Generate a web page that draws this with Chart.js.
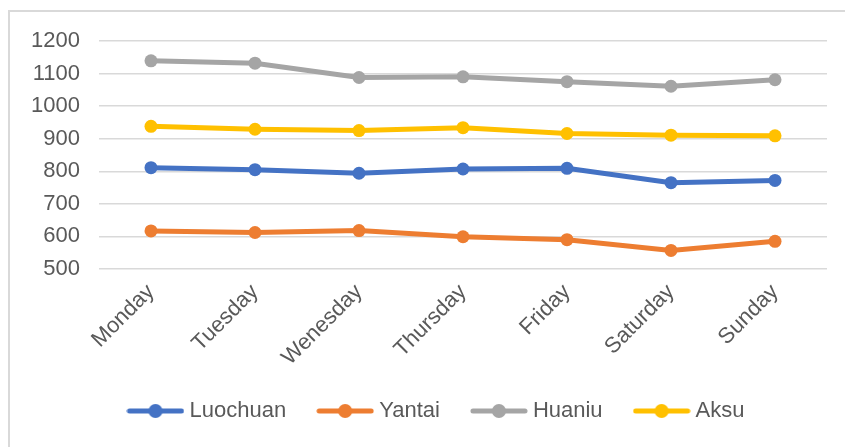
<!DOCTYPE html>
<html>
<head>
<meta charset="utf-8">
<script src="https://cdn.jsdelivr.net/npm/chart.js"></script>
<style>
  html, body { margin: 0; padding: 0; background: #ffffff; }
  #wrap { position: relative; width: 845px; height: 447px; overflow: hidden; }
  #frame { position: absolute; left: 8px; top: 10px; width: 900px; height: 500px; border: 2px solid #d9d9d9; box-sizing: border-box; }
  canvas { position: absolute; left: 0; top: 0; }
</style>
</head>
<body>
<div id="wrap">
  <div id="frame"></div>
  <canvas id="c" width="845" height="447"></canvas>
</div>
<script>
const categories = ['Monday', 'Tuesday', 'Wenesday', 'Thursday', 'Friday', 'Saturday', 'Sunday'];
const luochuan = [811, 805, 794, 807, 809, 765, 772];
const yantai   = [617, 612, 618, 599, 590, 557, 585];
const huaniu   = [1139, 1132, 1088, 1090, 1075, 1061, 1081];
const aksu     = [938, 929, 925, 934, 916, 911, 909];
const seriesNames = ['Luochuan', 'Yantai', 'Huaniu', 'Aksu'];
const seriesColors = ['#4472C4', '#ED7D31', '#A5A5A5', '#FFC000'];
const yMin = 500, yMax = 1200, yStep = 100;

const FONT = '"Liberation Sans", Arial, sans-serif';
const TEXT = '#595959';

function legendIcon(color) {
  const c = document.createElement('canvas');
  c.width = 58; c.height = 16;
  const g = c.getContext('2d');
  g.strokeStyle = color; g.lineWidth = 5; g.lineCap = 'round';
  g.beginPath(); g.moveTo(3, 8); g.lineTo(55, 8); g.stroke();
  g.fillStyle = color;
  g.beginPath(); g.arc(29, 8, 7, 0, Math.PI * 2); g.fill();
  return c;
}

const seriesData = [luochuan, yantai, huaniu, aksu];
const datasets = seriesNames.map((n, i) => ({
  label: n,
  data: seriesData[i],
  borderColor: seriesColors[i],
  backgroundColor: seriesColors[i],
  borderWidth: 5,
  pointStyle: 'circle',
  pointRadius: 6.5,
  pointHoverRadius: 6.5,
  pointBorderWidth: 0,
  tension: 0
}));

const legendShift = {
  id: 'legendShift',
  afterLayout(chart) {
    if (chart.legend) { chart.legend.left += 50; }
  }
};

new Chart(document.getElementById('c'), {
  type: 'line',
  data: { labels: categories, datasets },
  plugins: [legendShift],
  options: {
    responsive: false,
    animation: false,
    layout: { padding: { left: 0, right: 18, top: 41, bottom: 15 } },
    plugins: {
      tooltip: { enabled: false },
      legend: {
        position: 'bottom',
        labels: {
          usePointStyle: true,
          pointStyleWidth: 46,
          padding: 36,
          color: TEXT,
          font: { family: FONT, size: 22 },
          generateLabels(chart) {
            return chart.data.datasets.map((d, i) => ({
              text: d.label,
              fillStyle: d.borderColor,
              strokeStyle: d.borderColor,
              fontColor: TEXT,
              lineWidth: 0,
              pointStyle: legendIcon(d.borderColor),
              datasetIndex: i,
              hidden: false
            }));
          }
        }
      }
    },
    scales: {
      x: {
        offset: true,
        grid: { display: false, drawTicks: false },
        border: { display: false },
        ticks: {
          color: TEXT, font: { family: FONT, size: 22 },
          maxRotation: 45, minRotation: 45, padding: 10, autoSkip: false
        },
        afterFit(s) { s.height = 95; }
      },
      y: {
        min: yMin, max: yMax,
        grid: { color: '#d9d9d9', lineWidth: 1.5, drawTicks: false },
        border: { display: false },
        ticks: {
          stepSize: yStep, color: TEXT, font: { family: FONT, size: 22 }, padding: 19,
          callback: (v) => String(v)
        },
        afterFit(s) { s.width = 99; }
      }
    }
  }
});
</script>
</body>
</html>
